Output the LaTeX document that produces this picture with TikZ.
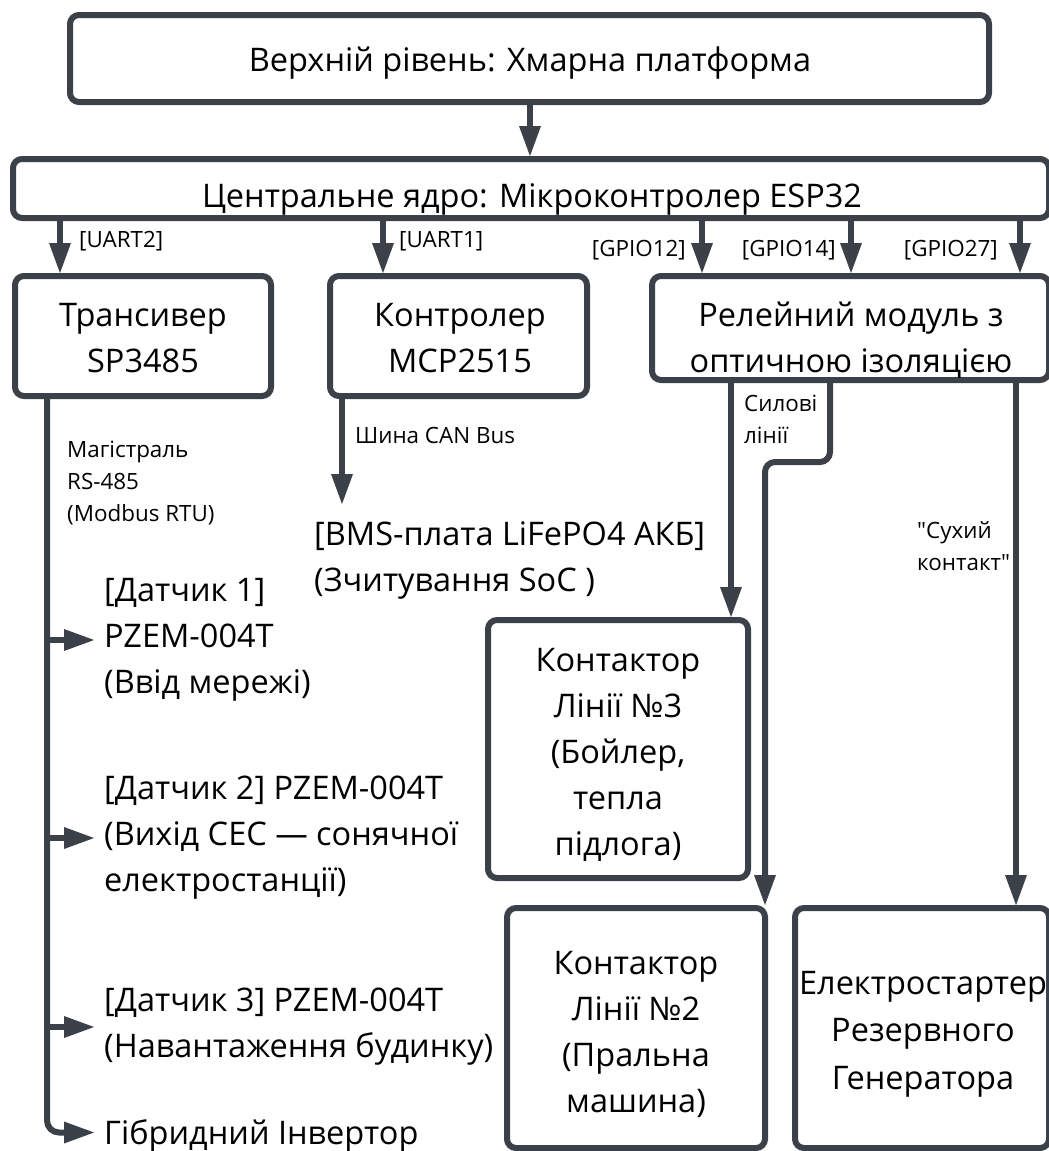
\documentclass[tikz,border=0pt]{standalone}
\usepackage{fontspec}
\setmainfont{Open Sans}[Ligatures=TeXOff]
\usetikzlibrary{arrows.meta}
\definecolor{ln}{HTML}{3B4049}
\newcommand\fbig{\fontsize{32.5}{46}\selectfont}
\newcommand\fsml{\fontsize{22.4}{32}\selectfont}
\begin{document}
\begin{tikzpicture}[x=1pt,y=-1pt,
  box/.style={draw=ln, line width=6pt, rounded corners=9pt, inner sep=0pt},
  arr/.style={draw=ln, line width=6pt, -{Triangle[length=30pt,width=22pt,line width=0pt]}},
  lbl/.style={font=\fsml, inner sep=0pt, align=left},
  txt/.style={font=\fbig, inner sep=0pt, align=left},
  ctxt/.style={font=\fbig, inner sep=0pt, align=center}]
\useasboundingbox (0,0) rectangle (1049,1151);
\fill[white] (0,0) rectangle (1049,1151);
\clip (0,0) rectangle (1049,1151);

% boxes
\node[box, minimum width=919pt, minimum height=87pt] (cloud) at (529.5,58.5) {};
\node[ctxt] (cloudt) at (530,63) {Верхній рівень: Хмарна платформа};
\node[box, minimum width=1036pt, minimum height=59pt] (esp) at (531,188.5) {};
\node[ctxt] (espt) at (532,199) {Центральне ядро: Мікроконтролер ESP32};
\node[box, minimum width=256pt, minimum height=120pt] (trans) at (143,336) {};
\node[ctxt] (transt) at (143,338) {Трансивер\\SP3485};
\node[box, minimum width=257pt, minimum height=120pt] (mcp) at (458.5,336) {};
\node[ctxt] (mcpt) at (460,338) {Контролер\\MCP2515};
\node[box, minimum width=397pt, minimum height=104pt] (relay) at (850.5,328) {};
\node[ctxt] (relayt) at (851,340) {Релейний модуль з\\оптичною ізоляцією};
\node[box, minimum width=260pt, minimum height=258pt] (k3) at (618,749) {};
\node[ctxt] (k3t) at (618,754.5) {Контактор\\Лінії №3\\(Бойлер,\\тепла\\підлога)};
\node[box, minimum width=258pt, minimum height=240pt] (k2) at (636,1028) {};
\node[ctxt] (k2t) at (636,1034) {Контактор\\Лінії №2\\(Пральна\\машина)};
\node[box, minimum width=254pt, minimum height=240pt] (gen) at (922,1028) {};
\node[ctxt, font=\fontsize{32.5}{47.5}\selectfont] (gent) at (923,1034) {Електростартер\\Резервного\\Генератора};

% free texts
\node[txt, anchor=west] (bms) at (314,560) {[BMS-плата LiFePO4 АКБ]\\(Зчитування SoC )};
\node[txt, anchor=west] (s1) at (104,640) {[Датчик 1]\\PZEM-004T\\(Ввід мережі)};
\node[txt, anchor=west] (s2) at (104,838) {[Датчик 2] PZEM-004T\\(Вихід СЕС — сонячної\\електростанції)};
\node[txt, anchor=west] (s3) at (104,1027) {[Датчик 3] PZEM-004T\\(Навантаження будинку)};
\node[txt, anchor=west] (inv) at (104,1135.5) {Гібридний Інвертор};

% labels
\node[lbl, anchor=west] (lu2) at (79,241) {[UART2]};
\node[lbl, anchor=west] (lu1) at (399,241) {[UART1]};
\node[lbl, anchor=east] (lg12) at (686,250) {[GPIO12]};
\node[lbl, anchor=east] (lg14) at (836,250) {[GPIO14]};
\node[lbl, anchor=east] (lg27) at (998,250) {[GPIO27]};
\node[lbl, anchor=west] (rs) at (67,483) {Магістраль\\RS-485\\(Modbus RTU)};
\node[lbl, anchor=west] (can) at (355,435) {Шина CAN Bus};
\node[lbl, anchor=west] (sil) at (744,419) {Силові\\лінії};
\node[lbl, anchor=west] (dry) at (917,546) {"Сухий\\контакт"};

% coordinates
\coordinate (ax) at (530,0);
\coordinate (a1) at (60,0);
\coordinate (a2) at (383,0);
\coordinate (a3) at (702,0);
\coordinate (a4) at (851,0);
\coordinate (a5) at (1020,0);
\coordinate (bx) at (47,0);
\coordinate (cx) at (342,0);
\coordinate (canend) at (342,504);
\coordinate (r1) at (731,0);
\coordinate (r2) at (830,0);
\coordinate (bend) at (765,462);
\coordinate (r4) at (1016,0);

% connectors
\draw[arr] (cloud.south -| ax) -- (esp.north -| ax);
\draw[arr] (esp.south -| a1) -- (trans.north -| a1);
\draw[arr] (esp.south -| a2) -- (mcp.north -| a2);
\draw[arr] (esp.south -| a3) -- (relay.north -| a3);
\draw[arr] (esp.south -| a4) -- (relay.north -| a4);
\draw[arr] (esp.south -| a5) -- (relay.north -| a5);
\draw[arr, rounded corners=12pt] (trans.south -| bx) |- ([xshift=-10pt,yshift=3pt]inv.west);
\draw[arr] (bx |- s1.west) -- ([xshift=-10pt]s1.west);
\draw[arr] (bx |- s2.west) -- ([xshift=-10pt]s2.west);
\draw[arr] (bx |- s3.west) -- ([xshift=-10pt]s3.west);
\draw[arr] (mcp.south -| cx) -- (canend);
\draw[arr] (relay.south -| r1) -- (k3.north -| r1);
\draw[arr, rounded corners=10pt] (relay.south -| r2) |- (bend) -- (k2.north -| bend);
\draw[arr] (relay.south -| r4) -- (gen.north -| r4);
\end{tikzpicture}
\end{document}
